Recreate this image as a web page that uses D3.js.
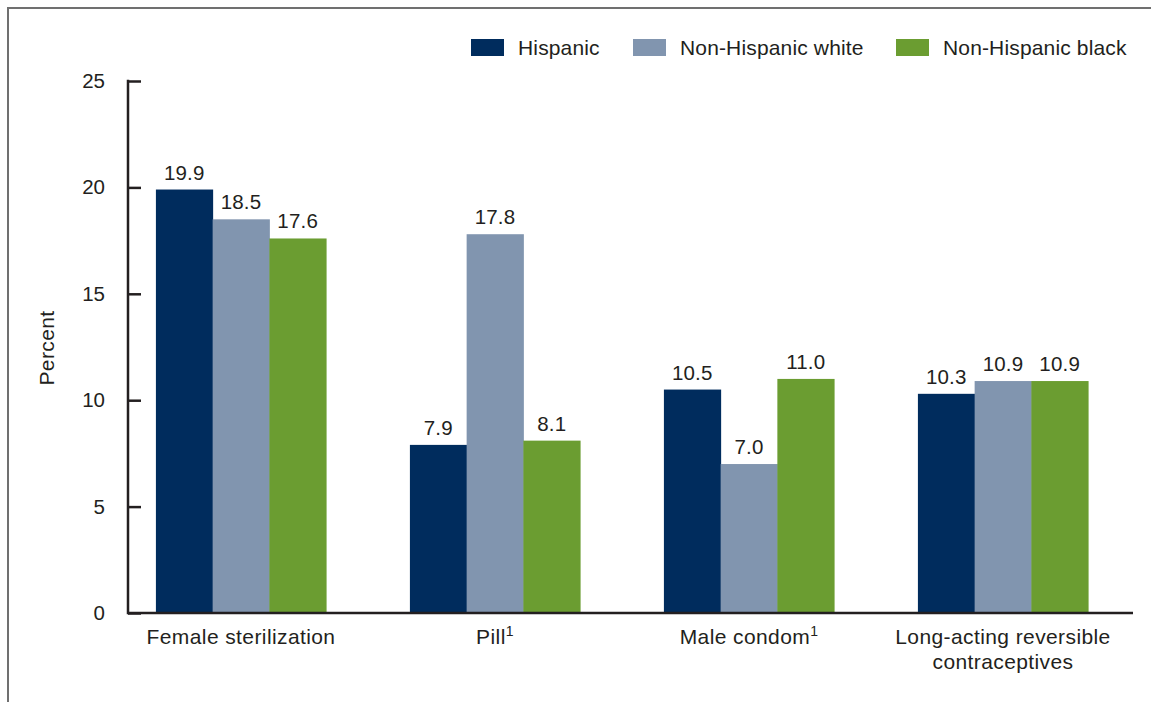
<!DOCTYPE html>
<html>
<head>
<meta charset="utf-8">
<script src="https://cdn.jsdelivr.net/npm/d3@7/dist/d3.min.js"></script>
<style>
  html, body { margin: 0; padding: 0; background: #fff; }
  svg { display: block; font-family: "Liberation Sans", Arial, Helvetica, sans-serif; }
</style>
</head>
<body>
<svg id="chart" width="1151" height="702"></svg>
<script>
const categories = ["Female sterilization", "Pill", "Male condom", "Long-acting reversible contraceptives"];
const categoryLines = [["Female sterilization"], ["Pill"], ["Male condom"], ["Long-acting reversible", "contraceptives"]];
const categoryFootnote = ["", "1", "1", ""];
const seriesNames = ["Hispanic", "Non-Hispanic white", "Non-Hispanic black"];
const hispanic = [19.9, 7.9, 10.5, 10.3];
const nhWhite = [18.5, 17.8, 7.0, 10.9];
const nhBlack = [17.6, 8.1, 11.0, 10.9];
const yTicks = [0, 5, 10, 15, 20, 25];
const colors = ["#002c5d", "#8195af", "#6b9d31"];

const seriesValues = [hispanic, nhWhite, nhBlack];
const svg = d3.select("#chart");
const textColor = "#231f20";
const fs = 21;
const ls = "0.4px";

// frame
svg.append("path")
  .attr("d", "M8,704 L8,8 L1160,8")
  .attr("fill", "none").attr("stroke", "#707070").attr("stroke-width", 2);

const y = d3.scaleLinear().domain([0, 25]).range([613, 81]);
const x0 = d3.scaleBand().domain(categories).range([114, 1130]).paddingInner(0.33).paddingOuter(0.165);
const x1 = d3.scaleBand().domain(seriesNames).range([0, x0.bandwidth()]);

// bars
categories.forEach((c, ci) => {
  const g = svg.append("g").attr("transform", `translate(${x0(c)},0)`);
  seriesNames.forEach((s, si) => {
    const v = seriesValues[si][ci];
    g.append("rect")
      .attr("x", x1(s)).attr("width", x1.bandwidth() + 0.5)
      .attr("y", y(v)).attr("height", y(0) - y(v))
      .attr("fill", colors[si]);
    g.append("text")
      .attr("x", x1(s) + x1.bandwidth() / 2)
      .attr("y", y(v) - 10)
      .attr("text-anchor", "middle")
      .attr("font-size", 20.5)
      .attr("letter-spacing", "0.2px")
      .attr("fill", textColor)
      .text(v.toFixed(1));
  });
});

// y axis
const yAxis = d3.axisRight(y).tickValues(yTicks).tickSize(13).tickFormat("");
const ya = svg.append("g").attr("transform", "translate(128,0)").call(yAxis);
ya.select(".domain").remove();
ya.selectAll(".tick line").attr("stroke", textColor).attr("stroke-width", 2.5);
svg.append("line").attr("x1", 128).attr("x2", 128).attr("y1", y(25) - 1.25).attr("y2", y(0) + 1.25)
  .attr("stroke", textColor).attr("stroke-width", 2.5);
svg.selectAll(".ylab").data(yTicks).enter().append("text")
  .attr("x", 105).attr("y", d => y(d) + 7)
  .attr("text-anchor", "end").attr("font-size", 20.5).attr("fill", textColor)
  .text(d => d);

// x axis line
svg.append("line").attr("x1", 128).attr("x2", 1133).attr("y1", y(0)).attr("y2", y(0))
  .attr("stroke", textColor).attr("stroke-width", 2.5);

// category labels
categories.forEach((c, ci) => {
  const cx = x0(c) + x0.bandwidth() / 2;
  categoryLines[ci].forEach((line, li) => {
    const t = svg.append("text")
      .attr("x", cx).attr("y", 644 + li * 25)
      .attr("text-anchor", "middle").attr("font-size", fs).attr("letter-spacing", ls).attr("fill", textColor);
    t.append("tspan").text(line);
    if (categoryFootnote[ci] && li === categoryLines[ci].length - 1) {
      t.append("tspan").attr("font-size", 14).attr("dy", -8).text(categoryFootnote[ci]);
    }
  });
});

// y title
svg.append("text")
  .attr("transform", "translate(54,348) rotate(-90)")
  .attr("text-anchor", "middle").attr("font-size", fs).attr("letter-spacing", ls).attr("fill", textColor)
  .text("Percent");

// legend
const legendX = [471, 633, 896];
seriesNames.forEach((s, si) => {
  svg.append("rect").attr("x", legendX[si]).attr("y", 39).attr("width", 33).attr("height", 17).attr("fill", colors[si]);
  svg.append("text").attr("x", legendX[si] + 47).attr("y", 55)
    .attr("font-size", fs).attr("letter-spacing", "0.15px").attr("fill", textColor).text(s);
});
</script>
</body>
</html>
